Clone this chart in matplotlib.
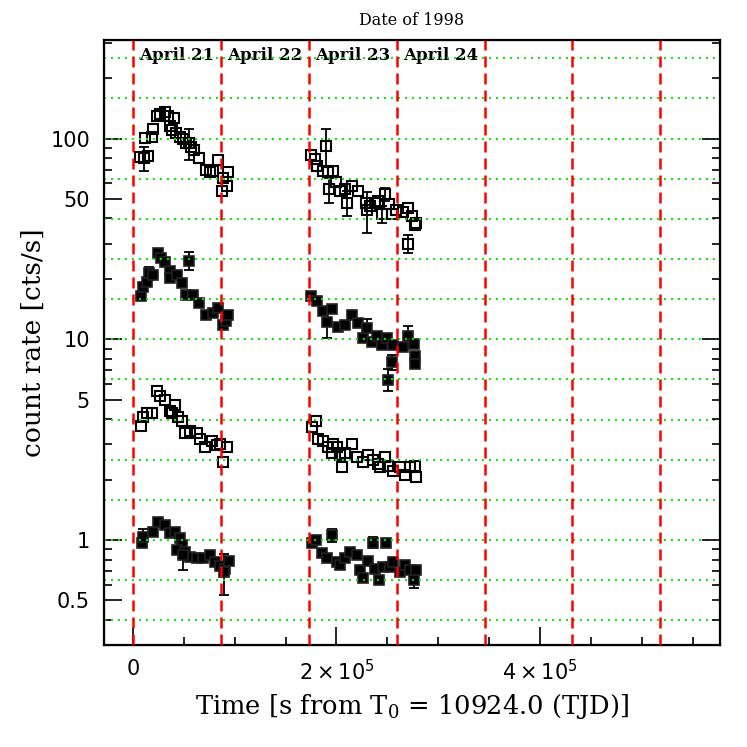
import matplotlib.pyplot as plt
import numpy as np
from matplotlib.ticker import FixedLocator, FixedFormatter, NullFormatter

# --- data (time in s from T0, count rate in cts/s) ---
# open squares, top light curve
top_t = [6900, 10800, 14700, 11800, 18700, 19700, 23600, 26500, 31500, 34400,
         40300, 36400, 38300, 42300, 46200, 49100, 52100, 55000, 57000, 60000,
         64900, 71700, 75700, 78600, 83500, 88500, 93400, 87500, 92400,
         174900, 178900, 180800, 189700, 186700, 191600, 196600, 199500, 192600, 203400,
         208400, 215200, 221100, 210300, 229100, 230000, 232900, 237800, 240800, 244700,
         247700, 251600, 254500, 258400, 265400, 270300, 274200, 277100, 278100, 270300]
top_r = [81, 80, 82, 101, 102, 112, 129, 133, 135, 130,
         126, 116, 111, 107, 102, 99, 95, 95, 91, 88,
         80, 70, 68, 69, 78, 64, 68, 55, 58,
         83, 79, 73, 92, 69, 68, 69, 61, 56, 55,
         56, 58, 55, 48, 48, 44, 46, 48, 49, 42,
         53, 47, 42, 44, 43, 45, 41, 37, 38, 30]
top_e = [0, 11, 0, 0, 0, 0, 0, 0, 0, 0,
         0, 0, 0, 0, 0, 0, 0, 17, 0, 0,
         0, 0, 0, 0, 0, 0, 0, 0, 0,
         0, 0, 0, 20, 0, 0, 0, 0, 8, 0,
         0, 0, 0, 7, 0, 10, 0, 0, 0, 4,
         4, 0, 0, 0, 0, 0, 0, 0, 0, 3]

# filled squares, second light curve
mid_t = [7900, 9800, 13800, 15700, 19700, 24600, 27500, 31500, 36400, 36400,
         43200, 48200, 52100, 55000, 59000, 64900, 71700, 78600, 83500, 88500,
         91400, 93400,
         174900, 180800, 186700, 190700, 195600, 201500, 208400, 215200, 221100, 226000,
         230000, 234900, 239800, 244700, 249600, 255500, 265400, 270300, 276200, 277100,
         277100, 254500, 250600]
mid_r = [16.4, 18.2, 19.2, 21.3, 21.0, 26.8, 25.3, 24.2, 21.8, 20.2,
         21.0, 19.0, 16.6, 24.7, 16.6, 15.2, 13.2, 13.5, 14.4, 11.8,
         12.4, 13.2,
         16.4, 15.6, 13.9, 12.2, 14.2, 11.5, 11.8, 13.2, 12.0, 10.1,
         11.4, 9.7, 10.4, 9.4, 10.2, 9.4, 9.2, 10.4, 9.5, 8.3,
         7.5, 7.7, 6.3]
mid_e = [0, 0, 0, 1.6, 0, 0, 0, 0, 0, 0,
         0, 0, 0, 2.6, 0, 0, 0, 0, 0, 0,
         0, 0,
         0, 0, 0, 2.0, 0, 0, 0, 0, 0, 0,
         1.3, 0, 0, 0, 0, 0, 0, 1.2, 0, 0,
         0, 0.7, 0.8]

# open squares, third light curve
low_t = [7900, 9800, 13800, 18700, 23600, 26500, 31500, 36400, 41300, 38300,
         44200, 48200, 51100, 56000, 62900, 65800, 70800, 77600, 82600, 85500,
         92400, 88500,
         175900, 179900, 181800, 186700, 191600, 196600, 200500, 195600, 203400, 208400,
         215200, 205400, 220100, 226000, 231000, 235900, 240800, 242800, 247700, 250600,
         255500, 262400, 267300, 272200, 277100, 278100]
low_r = [3.7, 4.1, 4.3, 4.3, 5.5, 5.2, 5.0, 4.4, 4.7, 4.3,
         4.1, 3.9, 3.4, 3.5, 3.4, 3.2, 2.9, 3.1, 2.97, 3.0,
         2.9, 2.45,
         3.65, 3.9, 3.2, 3.1, 2.9, 3.0, 2.9, 2.7, 2.65, 2.7,
         3.0, 2.3, 2.6, 2.45, 2.65, 2.5, 2.4, 2.3, 2.6, 2.35,
         2.2, 2.3, 2.1, 2.3, 2.35, 2.05]

# filled squares, bottom light curve
bot_t = [8850, 9830, 19650, 24600, 31450, 36400, 41300, 46200, 48200, 43200,
         51100, 56000, 62900, 68800, 75700, 80600, 85500, 90400, 94300, 49100,
         89400,
         175900, 179900, 185700, 190700, 195600, 200500, 203400, 208400, 213300, 220100,
         223100, 226000, 231000, 235900, 237800, 241800, 245700, 248600, 252600, 255500,
         262400, 267300, 272200, 276200, 278100]
bot_r = [0.97, 1.03, 1.10, 1.23, 1.19, 1.09, 1.10, 1.02, 0.95, 0.89,
         0.87, 0.82, 0.81, 0.81, 0.84, 0.78, 0.74, 0.72, 0.79, 0.84,
         0.69,
         0.97, 1.00, 0.86, 0.81, 1.06, 0.78, 0.75, 0.81, 0.87, 0.84,
         0.71, 0.65, 0.79, 0.97, 0.72, 0.63, 0.73, 0.97, 0.73, 0.78,
         0.69, 0.75, 0.71, 0.63, 0.71]
bot_e = [0, 0.10, 0, 0, 0, 0, 0, 0, 0, 0,
         0, 0, 0, 0, 0, 0, 0, 0, 0, 0.13,
         0.16,
         0, 0, 0, 0, 0.08, 0, 0, 0, 0, 0,
         0, 0, 0, 0.06, 0, 0, 0, 0.04, 0, 0,
         0, 0, 0, 0.05, 0]

day_edges = [0, 86400, 172800, 259200, 345600, 432000, 518400]
day_names = ['April 21', 'April 22', 'April 23', 'April 24']
grid_levels = [10 ** (k / 5) for k in range(-2, 13)]

fig = plt.figure(figsize=(7.47, 7.47), dpi=100)
ax = fig.add_axes([104 / 747, 1 - 645 / 747, 616 / 747, 605 / 747])
ax.set_yscale('log')


def draw_errors(t, r, e):
    t, r, e = np.array(t), np.array(r), np.array(e)
    m = e > 0
    ax.errorbar(t[m], r[m], yerr=e[m], fmt='none', ecolor='black',
                elinewidth=1.3, capsize=3.6, capthick=1.3, zorder=2)


draw_errors(top_t, top_r, top_e)
draw_errors(mid_t, mid_r, mid_e)
draw_errors(bot_t, bot_r, bot_e)

open_kw = dict(ls='none', marker='s', ms=7.3, mfc='none', mec='black', mew=1.5, zorder=3)
fill_kw = dict(ls='none', marker='s', ms=7.3, mfc='black', mec='#222222', mew=1.2, zorder=3)
ax.plot(top_t, top_r, **open_kw)
ax.plot(mid_t, mid_r, **fill_kw)
ax.plot(low_t, low_r, **open_kw)
ax.plot(bot_t, bot_r, **fill_kw)

# guide lines on top of the data
for lv in grid_levels:
    ax.axhline(lv, color='#00ee00', lw=1.4, ls=(0, (1, 2.6)), zorder=4)
for d in day_edges:
    ax.axvline(d, color='#ff0000', lw=1.8, ls=(0, (4.4, 2.4)), zorder=4)

for i, name in enumerate(day_names):
    mid = (day_edges[i] + day_edges[i + 1]) / 2
    ax.text(mid, 0.975, name, transform=ax.get_xaxis_transform(),
            ha='center', va='center', fontsize=12, fontweight='bold',
            family='DejaVu Serif')
ax.text(0.5, 1.033, 'Date of 1998', transform=ax.transAxes,
        ha='center', va='center', fontsize=11.5, family='DejaVu Serif')

ax.set_xlim(-28500, 577000)
ax.set_ylim(0.3, 310)

ax.xaxis.set_major_locator(FixedLocator([0, 200000, 400000]))
ax.xaxis.set_major_formatter(FixedFormatter(['0', r'$2\times10^{5}$', r'$4\times10^{5}$']))
ax.xaxis.set_minor_locator(FixedLocator(np.arange(0, 577000, 50000)))

ymaj = [0.5, 1, 5, 10, 50, 100]
ax.yaxis.set_major_locator(FixedLocator(ymaj))
ax.yaxis.set_major_formatter(FixedFormatter(['0.5', '1', '5', '10', '50', '100']))
ymin = [0.3, 0.4, 0.6, 0.7, 0.8, 0.9, 2, 3, 4, 6, 7, 8, 9, 20, 30, 40, 60, 70, 80, 90, 200, 300]
ax.yaxis.set_minor_locator(FixedLocator(ymin))
ax.yaxis.set_minor_formatter(NullFormatter())

ax.tick_params(which='both', direction='in', top=False, right=False, width=1.2,
               labelsize=15, pad=10)
ax.tick_params(which='major', length=13)
ax.tick_params(which='minor', length=6)
for s in ax.spines.values():
    s.set_linewidth(1.6)

# right-hand ticks: decades long, the rest short
ax2 = ax.twinx()
ax2.set_yscale('log')
ax2.set_ylim(0.3, 310)
ax2.yaxis.set_major_locator(FixedLocator([1, 10, 100]))
ax2.yaxis.set_minor_locator(FixedLocator([0.3, 0.4, 0.5, 0.6, 0.7, 0.8, 0.9, 2, 3, 4, 5, 6, 7, 8, 9,
                                          20, 30, 40, 50, 60, 70, 80, 90, 200, 300]))
ax2.yaxis.set_major_formatter(NullFormatter())
ax2.yaxis.set_minor_formatter(NullFormatter())
ax2.tick_params(which='both', direction='in', width=1.2)
ax2.tick_params(which='major', length=13)
ax2.tick_params(which='minor', length=6)

ax.set_xlabel(r'Time [s from T$_{\mathregular{0}}$ = 10924.0 (TJD)]',
              fontsize=18.5, family='DejaVu Serif', labelpad=6)
ax.set_ylabel('count rate [cts/s]', fontsize=19, family='DejaVu Serif', labelpad=3)

fig.savefig('out.png', dpi=100)
